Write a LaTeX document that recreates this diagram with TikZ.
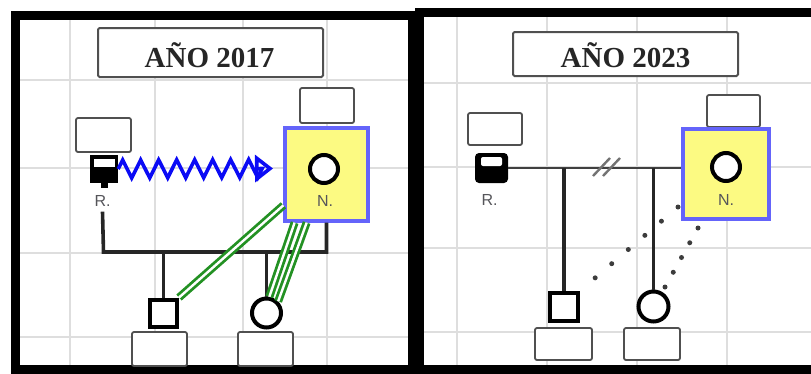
\documentclass[tikz,border=0pt]{standalone}
\usepackage{fontspec}
\setmainfont{Liberation Serif}
\newfontfamily\arialf{Liberation Sans}
\usetikzlibrary{arrows.meta,decorations.pathmorphing,calc}
\definecolor{gridc}{RGB}{222,222,222}
\definecolor{nyellow}{RGB}{252,250,130}
\definecolor{nblue}{RGB}{100,100,250}
\definecolor{gline}{RGB}{35,145,35}
\definecolor{boxc}{RGB}{80,80,80}
\definecolor{labc}{RGB}{85,85,90}
\definecolor{dotc}{RGB}{60,60,60}
\definecolor{wavec}{RGB}{10,10,245}
\tikzset{
  gridline/.style={draw=gridc, line width=1.8pt},
  panelbox/.style={draw=black, line width=9pt, line join=miter},
  titlebox/.style={draw=boxc, fill=white, line width=2pt, rounded corners=1.5pt, inner sep=0pt},
  titletext/.style={font=\fontsize{29}{29}\selectfont\bfseries, inner sep=0pt, text=black!85},
  tagbox/.style={draw=boxc, fill=white, line width=1.8pt, rounded corners=2pt, inner sep=0pt},
  nbox/.style={draw=nblue, fill=nyellow, line width=3.2pt, inner sep=0pt},
  pers/.style={draw=black, fill=white, line width=4pt, inner sep=0pt},
  plab/.style={font=\arialf\fontsize{16}{16}\selectfont, text=labc, inner sep=1pt},
  rel/.style={draw=black!85, line width=3.6pt},
  closerel/.style={draw=gline, line width=2.8pt, double=white, double distance=2.4pt},
  distrel/.style={draw=dotc, line width=5pt, line cap=round},
  waverel/.style={draw=wavec, line width=3.6pt, decorate,
    decoration={zigzag, amplitude=9pt, segment length=18pt, post length=4pt}},
}
\begin{document}
\begin{tikzpicture}[x=1pt,y=-1pt]
\path[use as bounding box] (0,0) rectangle (811,373);
\clip (0,0) rectangle (811,373);
% grids
\foreach \x in {70,155,243,327} \draw[gridline] (\x,15) -- (\x,369);
\foreach \y in {80,168,253,337} \draw[gridline] (15,\y) -- (412,\y);
\foreach \x in {457,547,637,727} \draw[gridline] (\x,12) -- (\x,369);
\foreach \y in {83,167,248,332} \draw[gridline] (419,\y) -- (811,\y);
% panels
\draw[panelbox] (15,15) rectangle (412,369);
\draw[panelbox] (419,12.5) rectangle (830,369);

% ================= 2017 =================
\node[titlebox, minimum width=225pt, minimum height=49pt] (t1) at (210.5,52.5) {};
\node[titletext, anchor=base] (t1txt) at (209.5,67) {AÑO 2017};

\node[tagbox, minimum width=55pt, minimum height=34pt] (rb1) at (103.5,135) {};
\node[tagbox, minimum width=54pt, minimum height=35pt] (nb1) at (327,105.5) {};

% R symbol
\node[fill=black, minimum width=28pt, minimum height=28pt, inner sep=0pt] (r1) at (104,169) {};
\node[fill=white, minimum width=21pt, minimum height=8pt, inner sep=0pt] (r1in) at (104.5,163) {};
\node[fill=black, minimum width=7pt, minimum height=5pt, inner sep=0pt, anchor=north] (r1tab) at (r1.south) {};
\node[plab] (rl1) at (102.5,201) {R.};

% N box
\node[nbox, minimum width=83pt, minimum height=93pt] (n1) at (326.5,174.5) {};
\node[pers, minimum size=28pt, circle] (nc1) at (324,169) {};
\node[plab] (nl1) at (325,201) {N.};

% children
\node[pers, minimum size=27pt] (sq1) at (163.5,313) {};
\node[pers, minimum size=29pt, circle] (c1) at (266.5,313) {};
\node[tagbox, minimum width=55pt, minimum height=34pt] (sb1) at (159.5,349) {};
\node[tagbox, minimum width=55pt, minimum height=34pt] (cb1) at (265.5,349) {};

% couple line
\coordinate (m1) at (103.5,252);
\draw[rel] (rl1.south) ++(0,4) -- (m1) -- (m1 -| n1.south) -- (n1.south);
\draw[rel] (sq1.north) -- (sq1.north |- m1);
\draw[rel] (c1.north) -- (c1.north |- m1);

% wavy arrow
\coordinate (wend) at (273,168.5);
\draw[waverel, -{Triangle[open, length=18pt, width=27pt]}] (r1.east) -- (wend);

% green lines
\draw[closerel] ($(n1.south west)!0.18!(n1.north west)$) -- (sq1.north east);
\draw[closerel] ($(n1.south west)!0.13!(n1.south east)$) -- (c1.80);
\draw[closerel] ($(n1.south west)!0.27!(n1.south east)$) -- (c1.45);

% ================= 2023 =================
\node[titlebox, minimum width=225pt, minimum height=44pt] (t2) at (625.5,54) {};
\node[titletext, anchor=base] (t2txt) at (625.5,67) {AÑO 2023};

\node[tagbox, minimum width=54pt, minimum height=32pt] (rb2) at (495,129) {};
\node[tagbox, minimum width=53pt, minimum height=32pt] (nb2) at (733.5,111) {};

% R symbol
\node[fill=black, rounded corners=4pt, minimum width=33pt, minimum height=30pt, inner sep=0pt] (r2) at (491.5,168) {};
\node[fill=white, rounded corners=2pt, minimum width=21pt, minimum height=9pt, inner sep=0pt] (r2in) at (491.5,161.5) {};
\node[plab] (rl2) at (489.5,200) {R.};

% N box
\node[nbox, minimum width=86pt, minimum height=90pt] (n2) at (726,174) {};
\node[pers, minimum size=28pt, circle] (nc2) at (726,167) {};
\node[plab] (nl2) at (726,200) {N.};

% children
\node[pers, minimum size=28pt] (sq2) at (564,307) {};
\node[pers, minimum size=30pt, circle] (c2) at (653.5,306.5) {};
\node[tagbox, minimum width=57pt, minimum height=32pt] (sb2) at (563.5,344) {};
\node[tagbox, minimum width=56pt, minimum height=32pt] (cb2) at (652,344) {};

% couple line (divorced)
\draw[draw=black!75, line width=2.8pt] (r2.east) -- (r2.east -| n2.west);
\draw[draw=black!55, line width=2.4pt] (593,176) -- (610,158);
\draw[draw=black!55, line width=2.4pt] (603,176) -- (620,158);
\draw[rel] (sq2.north) -- (sq2.north |- r2.east);
\draw[rel] (c2.north) -- (c2.north |- r2.east);

% distant relations (dotted)
\coordinate (da1) at (678,207);
\coordinate (da2) at (595,278);
\coordinate (db1) at (698,228);
\coordinate (db2) at (665,287);
\draw[distrel, dash pattern=on 0pt off 21.8pt] (da1) -- (da2);
\draw[distrel, dash pattern=on 0pt off 16.9pt] (db1) -- (db2);
\end{tikzpicture}
\end{document}
